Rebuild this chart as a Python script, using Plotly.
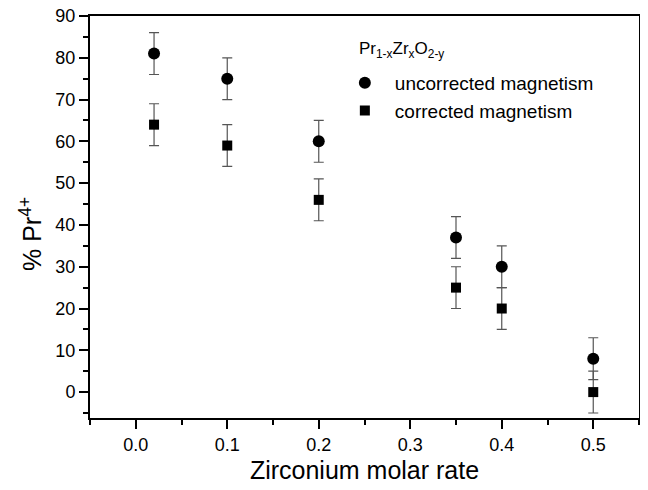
import plotly.graph_objects as go

zr_rate = [0.02, 0.1, 0.2, 0.35, 0.4, 0.5]
uncorrected = [81, 75, 60, 37, 30, 8]
corrected = [64, 59, 46, 25, 20, 0]
err_unc = [5, 5, 5, 5, 5, 5]
err_cor = [5, 5, 5, 5, 5, 5]

FONT = "Liberation Sans, Arial, sans-serif"

fig = go.Figure()


def add_series(y, err, symbol, size, name):
    fig.add_trace(
        go.Scatter(
            x=zr_rate,
            y=y,
            mode="markers",
            name=name,
            marker=dict(symbol=symbol, size=size, color="black"),
            error_y=dict(type="data", array=err, visible=True,
                         color="#555555", thickness=1.2, width=5),
        )
    )


add_series(uncorrected, err_unc, "circle", 12, "uncorrected magnetism")
add_series(corrected, err_cor, "square", 10, "corrected magnetism")

axis_common = dict(
    showline=True, linecolor="black", linewidth=2, mirror=True,
    showgrid=False, zeroline=False, automargin=False,
    ticks="outside", ticklen=9, tickwidth=2, tickcolor="black",
    tickfont=dict(family=FONT, size=18, color="black"),
    ticklabeloverflow="allow",
)

fig.update_xaxes(
    range=[-0.05, 0.55], tickvals=[0, 0.1, 0.2, 0.3, 0.4, 0.5],
    ticktext=["0.0", "0.1", "0.2", "0.3", "0.4", "0.5"],
    minor=dict(ticks="outside", ticklen=5, tickwidth=2, tickcolor="black", dtick=0.05),
    title=dict(text="Zirconium molar rate", font=dict(family=FONT, size=25, color="black"), standoff=8),
    **axis_common,
)
fig.update_yaxes(
    range=[-6.2, 90], tickvals=list(range(0, 100, 10)),
    minor=dict(ticks="outside", ticklen=5, tickwidth=2, tickcolor="black", dtick=5),
    **axis_common,
)

# page body has an 8px margin, so the figure is sized to sit in the window
fig.update_layout(
    width=640, height=482,
    margin=dict(l=82, r=9, t=8, b=72),
    plot_bgcolor="white", paper_bgcolor="white",
    legend=dict(
        font=dict(family=FONT, size=19, color="black"),
        x=0.446, y=0.8806, xanchor="left", yanchor="top",
        itemwidth=50,
        bgcolor="rgba(0,0,0,0)", tracegroupgap=0,
    ),
    annotations=[
        dict(
            text="Pr<sub>1-x</sub>Zr<sub>x</sub>O<sub>2-y</sub>",
            xref="paper", yref="paper", x=0.4865, y=0.948,
            xanchor="left", yanchor="top", showarrow=False,
            font=dict(family=FONT, size=17, color="black"),
        ),
        dict(
            text="% Pr<sup>4+</sup>",
            xref="paper", yref="paper", x=-0.1075, y=0.4577,
            xanchor="center", yanchor="middle", textangle=-90, showarrow=False,
            font=dict(family=FONT, size=25, color="black"),
        ),
    ],
)

fig.write_html("out.html")
